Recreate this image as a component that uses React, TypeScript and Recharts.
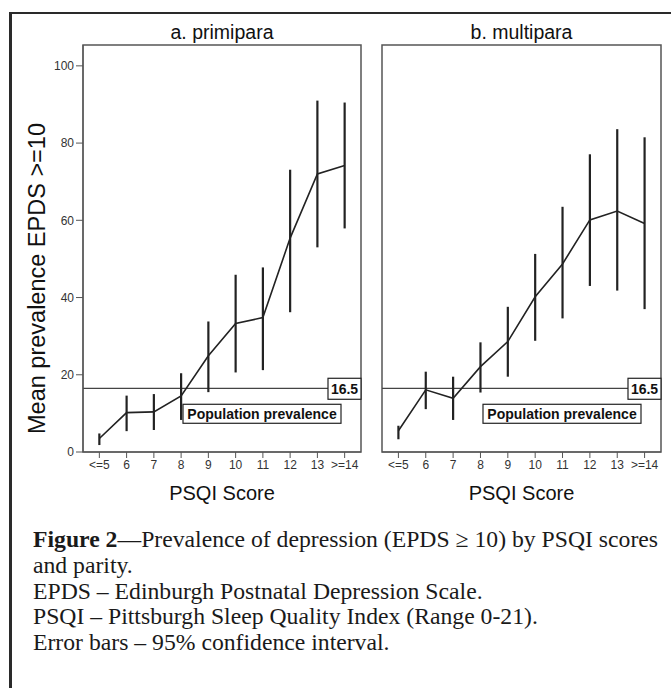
import React from 'react';
import {
  LineChart,
  Line,
  XAxis,
  YAxis,
  ErrorBar,
  ReferenceLine,
  ReferenceArea,
} from 'recharts';

// PSQI score groups (x categories)
const scoreLabels = ['<=5', '6', '7', '8', '9', '10', '11', '12', '13', '>=14'];

// a. primipara: mean prevalence and 95% CI
const primiMean = [3.5, 10.2, 10.4, 14.5, 24.9, 33.3, 34.8, 55.4, 72.0, 74.2];
const primiLow = [1.8, 5.4, 5.7, 8.3, 15.5, 20.6, 21.2, 36.2, 53.0, 57.9];
const primiHigh = [4.8, 14.6, 15.0, 20.4, 33.8, 45.9, 47.8, 73.1, 91.0, 90.5];

// b. multipara: mean prevalence and 95% CI
const multiMean = [5.5, 16.1, 13.9, 22.1, 28.6, 40.2, 48.7, 60.1, 62.4, 59.2];
const multiLow = [3.3, 11.1, 8.3, 15.4, 19.5, 28.8, 34.6, 43.0, 41.8, 37.0];
const multiHigh = [6.8, 20.8, 19.5, 28.4, 37.6, 51.3, 63.5, 77.1, 83.6, 81.5];

const yTicks = [0, 20, 40, 60, 80, 100];
const populationPrevalence = 16.5;

const Y_MAX = 105.4;
const X_MIN = -0.6;
const X_MAX = 9.6;
const SANS = '"Liberation Sans", Arial, sans-serif';
const INK = '#222';
const FRAME = '#555';

function buildRows(mean: number[], low: number[], high: number[]) {
  return mean.map((m, i) => ({
    x: i,
    mean: m,
    err: [m - low[i], high[i] - m],
  }));
}

const primiRows = buildRows(primiMean, primiLow, primiHigh);
const multiRows = buildRows(multiMean, multiLow, multiHigh);

function PrevalenceLabel(props: any) {
  const { viewBox } = props;
  const right = viewBox.x + viewBox.width;
  const y = viewBox.y;
  return (
    <g fontFamily={SANS} fontWeight="bold" fontSize={14} fill="#111">
      <rect x={right - 33} y={y - 10} width={33} height={21} fill="#fff" stroke={INK} strokeWidth={1.2} />
      <text x={right - 16.5} y={y + 5.5} textAnchor="middle">
        {populationPrevalence}
      </text>
      <rect x={right - 178} y={y + 16} width={158} height={19} fill="#fff" stroke={INK} strokeWidth={1.2} />
      <text x={right - 99} y={y + 30.5} textAnchor="middle">
        Population prevalence
      </text>
    </g>
  );
}

function Panel({ title, rows, showY }: { title: string; rows: any[]; showY: boolean }) {
  const titleLabel = (props: any) => {
    const vb = props.viewBox;
    return (
      <text x={vb.x + vb.width / 2} y={vb.y - 6} textAnchor="middle" fontFamily={SANS} fontSize={19.5} fill="#111">
        {title}
      </text>
    );
  };
  const xLabel = (props: any) => {
    const vb = props.viewBox;
    return (
      <text x={vb.x + vb.width / 2} y={vb.y + 48} textAnchor="middle" fontFamily={SANS} fontSize={20} fill="#111">
        PSQI Score
      </text>
    );
  };
  const yLabel = (props: any) => {
    const vb = props.viewBox;
    const cx = vb.x + 29;
    const cy = vb.y + vb.height / 2 + 30;
    return (
      <text
        x={cx}
        y={cy}
        transform={`rotate(-90 ${cx} ${cy})`}
        textAnchor="middle"
        dominantBaseline="central"
        fontFamily={SANS}
        fontSize={23.5}
        fill="#111"
      >
        Mean prevalence EPDS &gt;=10
      </text>
    );
  };

  return (
    <LineChart
      width={showY ? 372 : 299}
      height={520}
      data={rows}
      margin={{ top: 45, right: showY ? 11 : 10, bottom: 8, left: showY ? 8 : 10 }}
    >
      <XAxis
        dataKey="x"
        type="number"
        domain={[X_MIN, X_MAX]}
        ticks={scoreLabels.map((_, i) => i)}
        interval={0}
        tickFormatter={(v: number) => scoreLabels[v]}
        tick={{ fontSize: 12, fontFamily: SANS, fill: '#333' }}
        tickSize={6}
        tickMargin={2}
        height={60}
        stroke={FRAME}
        allowDataOverflow
        label={xLabel}
      />
      <YAxis
        type="number"
        domain={[0, Y_MAX]}
        ticks={yTicks}
        tick={{ fontSize: 12, fontFamily: SANS, fill: '#333' }}
        tickSize={7}
        tickMargin={2}
        width={75}
        stroke={FRAME}
        allowDataOverflow
        hide={!showY}
        label={showY ? yLabel : undefined}
      />
      <ReferenceArea
        x1={X_MIN}
        x2={X_MAX}
        y1={0}
        y2={Y_MAX}
        fill="none"
        fillOpacity={0}
        stroke={FRAME}
        strokeWidth={1.5}
        ifOverflow="visible"
        label={titleLabel}
      />
      <ReferenceLine
        y={populationPrevalence}
        stroke="#444"
        strokeWidth={1.2}
        label={<PrevalenceLabel />}
      />
      <Line
        type="linear"
        dataKey="mean"
        stroke={INK}
        strokeWidth={1.6}
        dot={false}
        isAnimationActive={false}
      >
        <ErrorBar dataKey="err" direction="y" width={0} stroke={INK} strokeWidth={2.2} />
      </Line>
    </LineChart>
  );
}

const captionLines = [
  'and parity.',
  'EPDS \u2013 Edinburgh Postnatal Depression Scale.',
  'PSQI \u2013 Pittsburgh Sleep Quality Index (Range 0-21).',
  'Error bars \u2013 95% confidence interval.',
];

export default function App() {
  return (
    <div
      style={{
        position: 'absolute',
        left: 0,
        top: 0,
        width: 671,
        height: 688,
        overflow: 'hidden',
        background: '#fff',
      }}
    >
      <div
        style={{
          position: 'absolute',
          left: 9,
          top: 12,
          width: 720,
          height: 720,
          borderTop: '2px solid #2a2a2a',
          borderLeft: '3px solid #2a2a2a',
        }}
      />
      <div style={{ position: 'absolute', left: 0, top: 0 }}>
        <Panel title="a. primipara" rows={primiRows} showY />
      </div>
      <div style={{ position: 'absolute', left: 372, top: 0 }}>
        <Panel title="b. multipara" rows={multiRows} showY={false} />
      </div>
      <div
        style={{
          position: 'absolute',
          left: 33,
          top: 527,
          fontFamily: '"Liberation Serif", "Times New Roman", serif',
          fontSize: 23.7,
          lineHeight: '25.8px',
          color: '#1a1a1a',
          whiteSpace: 'nowrap',
        }}
      >
        <div>
          <b>Figure 2</b>
          {'\u2014Prevalence of depression (EPDS \u2265 10) by PSQI scores'}
        </div>
        {captionLines.map((line) => (
          <div key={line}>{line}</div>
        ))}
      </div>
    </div>
  );
}
